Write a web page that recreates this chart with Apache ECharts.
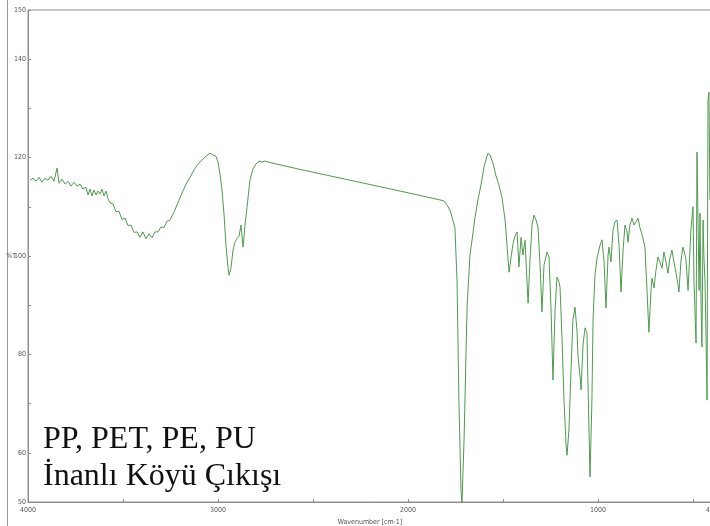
<!DOCTYPE html>
<html>
<head>
<meta charset="utf-8">
<script src="https://cdn.jsdelivr.net/npm/echarts@6/dist/echarts.min.js"></script>
<style>
  html, body { margin: 0; padding: 0; background: #fff; }
  #chart { width: 710px; height: 526px; }
</style>
</head>
<body>
<div id="chart"></div>
<script>
// FTIR spectrum: wavenumber (cm-1) and transmittance (%T)
const wavenumbers = [
  3989, 3974, 3958, 3942, 3926, 3911, 3895, 3879, 3863, 3847,
  3837, 3821, 3805, 3789, 3774, 3758, 3742, 3726, 3711, 3695,
  3684, 3674, 3663, 3653, 3642, 3632, 3621, 3611, 3600, 3589,
  3579, 3568, 3553, 3537, 3521, 3505, 3489, 3474, 3458, 3442,
  3426, 3411, 3395, 3379, 3363, 3347, 3332, 3316, 3300, 3284,
  3268, 3253, 3232, 3211, 3189, 3168, 3147, 3126, 3105, 3084,
  3063, 3042, 3026, 3011, 3000, 2989, 2979, 2968, 2958, 2947,
  2942, 2932, 2921, 2911, 2900, 2889, 2879, 2868, 2858, 2847,
  2832, 2816, 2800, 2784, 2768, 2753, 2737, 2716, 2568, 2305,
  2042, 1832, 1811, 1795, 1779, 1768, 1753, 1742, 1732, 1721,
  1716, 1705, 1689, 1674, 1663, 1647, 1632, 1616, 1600, 1584,
  1579, 1568, 1553, 1537, 1521, 1505, 1489, 1479, 1468, 1458,
  1447, 1437, 1426, 1416, 1405, 1395, 1384, 1374, 1368, 1358,
  1347, 1337, 1326, 1316, 1305, 1295, 1284, 1268, 1258, 1247,
  1237, 1226, 1216, 1205, 1200, 1189, 1179, 1168, 1163, 1153,
  1142, 1132, 1121, 1111, 1105, 1095, 1089, 1079, 1068, 1058,
  1053, 1042, 1032, 1026, 1016, 1005, 989, 979, 968, 958,
  947, 942, 932, 921, 911, 900, 889, 879, 868, 858,
  847, 842, 832, 821, 811, 800, 789, 779, 768, 753,
  742, 732, 721, 716, 705, 695, 684, 674, 663, 653,
  642, 632, 621, 611, 600, 589, 579, 574, 563, 553,
  542, 537, 526, 516, 511, 500, 495, 484, 479, 468,
  463, 458, 453, 447, 442, 437, 432, 426, 421, 416,
  411
];
const transmittance = [
  115.4, 115.8, 115.2, 116.0, 115.0, 115.8, 115.4, 116.2, 115.2, 117.9,
  114.8, 115.6, 114.6, 115.2, 114.2, 115.0, 114.2, 114.6, 113.6, 114.0,
  112.4, 113.6, 112.2, 113.4, 112.4, 113.2, 112.6, 113.6, 112.2, 113.2,
  111.6, 110.8, 110.6, 109.0, 109.1, 107.4, 107.7, 106.2, 106.3, 104.8,
  104.9, 103.8, 104.9, 103.5, 104.5, 103.7, 104.9, 104.9, 105.9, 105.8,
  107.1, 107.3, 108.9, 110.8, 112.8, 114.6, 116.0, 117.5, 118.7, 119.5,
  120.3, 120.9, 120.5, 120.3, 119.1, 116.5, 113.4, 108.3, 102.2, 97.5,
  96.1, 97.5, 101.2, 102.8, 103.6, 104.0, 106.3, 101.8, 106.3, 110.0,
  115.4, 117.7, 118.7, 119.3, 119.1, 119.3, 119.1, 118.9, 117.6, 115.4,
  113.2, 111.4, 111.2, 110.4, 109.3, 107.9, 105.7, 95.1, 70.7, 52.4,
  49.8, 62.6, 89.6, 100.2, 103.2, 107.9, 111.4, 114.4, 118.1, 120.3,
  120.9, 120.5, 118.9, 116.3, 114.4, 111.8, 107.3, 102.2, 96.7, 99.6,
  102.6, 104.0, 104.9, 97.8, 103.8, 100.2, 103.2, 95.1, 90.4, 99.2,
  106.3, 108.3, 107.3, 105.9, 98.2, 88.6, 98.2, 100.8, 99.8, 89.0,
  74.8, 89.0, 95.7, 94.7, 93.7, 82.9, 70.7, 61.6, 59.5, 64.6,
  76.8, 87.0, 89.6, 85.0, 79.5, 75.8, 72.8, 81.9, 85.4, 84.3,
  74.8, 55.1, 70.7, 87.0, 96.1, 99.6, 102.2, 103.3, 98.8, 89.4,
  100.2, 101.8, 98.8, 105.3, 106.9, 107.3, 102.2, 92.7, 101.2, 106.3,
  104.9, 102.8, 106.3, 107.7, 106.3, 106.9, 107.7, 105.7, 104.3, 101.8,
  93.0, 84.5, 93.0, 95.5, 93.5, 97.1, 99.8, 98.8, 97.5, 100.8,
  98.8, 96.5, 99.6, 101.2, 98.8, 96.5, 94.1, 92.7, 99.2, 101.8,
  100.2, 99.2, 93.0, 101.2, 105.3, 110.0, 95.1, 82.3, 121.1, 93.0,
  108.7, 91.0, 81.5, 107.3, 99.2, 95.1, 84.9, 70.7, 131.7, 133.3,
  111.4
];

const xLabelValues = [4000, 3000, 2000, 1000, 400];
const xTickValues = [4000, 3500, 3000, 2500, 2000, 1500, 1000, 500, 400];
const yLabelValues = [50, 60, 80, 100, 120, 140, 150];

const sampleLines = ['PP, PET, PE, PU', 'İnanlı Köyü Çıkışı'];

const spectrum = wavenumbers.map((w, i) => [w, transmittance[i]]);

const smallFont = "'Liberation Sans Narrow', 'DejaVu Sans Condensed', sans-serif";
const labelFont = "32px 'Liberation Serif', 'Times New Roman', serif";
const axisGrey = '#8e8e8e';
const plainNumber = v => String(v);

const chart = echarts.init(document.getElementById('chart'), null, { renderer: 'canvas' });
chart.setOption({
  animation: false,
  backgroundColor: '#ffffff',
  grid: {
    left: 28, right: -2, top: 10, bottom: 24,
    outerBoundsMode: 'none',
    containLabel: false,
    show: true, borderColor: axisGrey, borderWidth: 1, backgroundColor: 'transparent'
  },
  xAxis: {
    type: 'value',
    min: 400, max: 4000,
    inverse: true,
    name: 'Wavenumber [cm-1]',
    nameLocation: 'middle',
    nameGap: 17,
    nameMoveOverlap: false,
    nameTextStyle: { fontSize: 7, color: '#555', fontFamily: smallFont },
    axisLine: { show: true, lineStyle: { color: axisGrey, width: 1 } },
    axisTick: { show: true, inside: true, length: 3, customValues: xTickValues, lineStyle: { color: axisGrey } },
    axisLabel: {
      customValues: xLabelValues, formatter: plainNumber,
      fontSize: 7, color: '#555', fontFamily: smallFont, margin: 5
    },
    splitLine: { show: false }
  },
  yAxis: {
    type: 'value',
    min: 50, max: 150, interval: 10,
    name: '%T',
    nameLocation: 'middle',
    nameRotate: 0,
    nameGap: 12,
    nameMoveOverlap: false,
    nameTextStyle: { fontSize: 7, color: '#555', fontFamily: smallFont, align: 'right' },
    axisLine: { show: true, lineStyle: { color: axisGrey, width: 1 } },
    axisTick: { show: true, inside: true, length: 3, lineStyle: { color: axisGrey } },
    axisLabel: {
      customValues: yLabelValues, formatter: plainNumber,
      fontSize: 7, color: '#555', fontFamily: smallFont, margin: 2
    },
    splitLine: { show: false }
  },
  graphic: [
    {
      type: 'line',
      shape: { x1: 7.5, y1: 0, x2: 7.5, y2: 526 },
      style: { stroke: '#9a9a9a', lineWidth: 1 },
      silent: true
    },
    {
      type: 'text',
      x: 43, y: 424,
      style: { text: sampleLines[0], font: labelFont, fill: '#111' }
    },
    {
      type: 'text',
      x: 43, y: 461,
      style: { text: sampleLines[1], font: labelFont, fill: '#111' }
    }
  ],
  series: [{
    type: 'line',
    data: spectrum,
    showSymbol: false,
    symbol: 'none',
    clip: true,
    lineStyle: { color: '#4f9a4f', width: 1 }
  }]
});
</script>
</body>
</html>
